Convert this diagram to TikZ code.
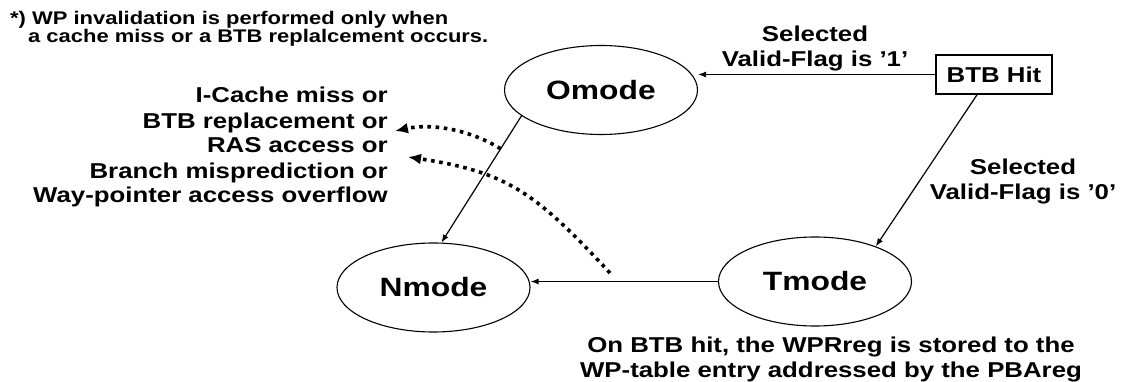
\documentclass[tikz,border=0pt]{standalone}
\usepackage{fontspec}
\setmainfont{Liberation Sans}[FakeStretch=1.2]
\usetikzlibrary{arrows.meta,shapes.geometric}

\begin{document}
\begin{tikzpicture}[x=1pt,y=-1pt,
  every node/.style={inner sep=0pt},
  mode/.style={draw, ellipse, line width=1.1pt, minimum width=193pt, minimum height=89pt,
    font=\bfseries\fontsize{26.5}{30}\selectfont},
  hitbox/.style={draw, line width=1.6pt, minimum width=116pt, minimum height=39pt,
    font=\bfseries\fontsize{21.5}{25}\selectfont},
  cond/.style={font=\bfseries\fontsize{21.5}{25}\selectfont},
  note/.style={font=\bfseries\fontsize{18.3}{15}\selectfont},
  trans/.style={line width=1.2pt, -{Latex[length=8pt,width=6pt]}},
  hint/.style={line width=3.6pt, dash pattern=on 3.6pt off 4.6pt, -{Latex[length=13pt,width=11pt]}}]

\useasboundingbox (0,0) rectangle (1124,382);

% footnote
\node[note, anchor=base west, align=left] (footnote) at (10,43)
  {*) WP invalidation is performed only when\\\hspace*{18pt}a cache miss or a BTB replalcement occurs.};

% states and the BTB hit event
\node[mode] (omode) at (601,90) {Omode};
\node[mode] (nmode) at (433.5,287.5) {Nmode};
\node[mode] (tmode) at (815,281.5) {Tmode};
\node[hitbox] (btb) at (994,74.5) {BTB Hit};

% transitions
\draw[trans] (btb.west) -- (btb.west -| omode.east);
\draw[trans] ([xshift=-17pt]btb.south) -- (tmode.30);
\draw[trans] (omode.198) -- (nmode.80) coordinate[pos=0.26] (tapO);
\draw[trans] (tmode.west) -- (tmode.west -| nmode.east);

% transition conditions
\node[cond, anchor=base, align=center] (cond1) at (815,67) {Selected\\Valid-Flag is '1'};
\node[cond, anchor=base, align=center] (cond0) at (1023,200) {Selected\\Valid-Flag is '0'};
\node[cond, anchor=base east, align=right] (events) at (388,203)
  {I-Cache miss or\\BTB replacement or\\RAS access or\\Branch misprediction or\\Way-pointer access overflow};
\node[cond, anchor=base, align=center] (store) at (831,377)
  {On BTB hit, the WPRreg is stored to the\\WP-table entry addressed by the PBAreg};

% invalidation events leading back to Nmode
\coordinate (tapT) at (610,273);
\coordinate (ev1) at (395,131);
\coordinate (ev2) at (408,157);
\draw[hint] (tapO) .. controls (467,128) and (429,123.6) .. (ev1);
\draw[hint] (tapT) .. controls (535,192) and (507,172) .. (ev2);
\end{tikzpicture}
\end{document}
